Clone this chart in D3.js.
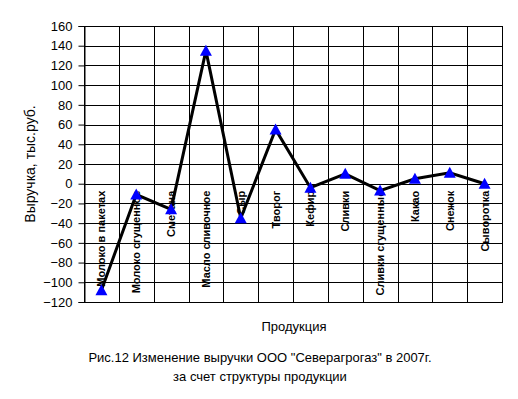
<!DOCTYPE html>
<html>
<head>
<meta charset="utf-8">
<script src="https://cdn.jsdelivr.net/npm/d3@7"></script>
<style>
  body { margin: 0; background: #fff; }
  text { font-family: "Liberation Sans", Arial, sans-serif; fill: #000; }
</style>
</head>
<body>
<svg id="chart" width="518" height="399"></svg>
<script>
// products and revenue change, thousand rubles
const categories = ["Молоко в пакетах", "Молоко сгущенное", "Сметана", "Масло сливочное", "Сыр", "Творог",
  "Кефир", "Сливки", "Сливки сгущенные", "Какао", "Снежок", "Сыворотка"];
const values = [-108, -11, -26, 135, -35, 55, -4, 10, -7, 5, 11, 0];
const yTicks = [-120, -100, -80, -60, -40, -20, 0, 20, 40, 60, 80, 100, 120, 140, 160];

const svg = d3.select("#chart");
const plotLeft = 84, plotRight = 502, plotTop = 26, plotBottom = 302;

const x = d3.scaleBand().domain(categories).range([plotLeft, plotRight]);
const y = d3.scaleLinear().domain([-120, 160]).range([plotBottom, plotTop]);

// horizontal grid
svg.append("g").selectAll("line")
  .data(yTicks)
  .join("line")
  .attr("x1", plotLeft).attr("x2", plotRight)
  .attr("y1", d => Math.round(y(d)) + 0.5).attr("y2", d => Math.round(y(d)) + 0.5)
  .attr("stroke", "#000").attr("stroke-width", 1);

// vertical grid at category borders
svg.append("g").selectAll("line")
  .data(categories)
  .join("line")
  .attr("x1", d => Math.round(x(d) + x.bandwidth()) + 0.5)
  .attr("x2", d => Math.round(x(d) + x.bandwidth()) + 0.5)
  .attr("y1", plotTop).attr("y2", plotBottom)
  .attr("stroke", "#000").attr("stroke-width", 1);

// y axis
const yAxis = svg.append("g")
  .attr("transform", "translate(" + (plotLeft + 0.5) + ",0)")
  .call(d3.axisLeft(y).tickValues(yTicks).tickSize(6).tickPadding(6));
yAxis.select(".domain").attr("stroke", "#000");
yAxis.selectAll("line").attr("stroke", "#000");
yAxis.selectAll("text")
  .style("font-family", "Liberation Sans, Arial, sans-serif")
  .style("font-size", "13px")
  .attr("fill", "#000");

// plot border
svg.append("rect")
  .attr("x", plotLeft + 0.5).attr("y", plotTop + 0.5)
  .attr("width", plotRight - plotLeft).attr("height", plotBottom - plotTop)
  .attr("fill", "none").attr("stroke", "#000").attr("stroke-width", 1);

// category labels, rotated, hanging below zero line
svg.append("g").selectAll("text")
  .data(categories)
  .join("text")
  .attr("transform", d => "translate(" + (x(d) + x.bandwidth() / 2 + 4) + "," + (y(0) + 7) + ")rotate(-90)")
  .attr("text-anchor", "end")
  .style("font-size", "11px")
  .style("font-weight", "bold")
  .text(d => d);

// line
const line = d3.line()
  .x((d, i) => x(categories[i]) + x.bandwidth() / 2)
  .y(d => y(d));

svg.append("path")
  .datum(values)
  .attr("fill", "none")
  .attr("stroke", "#000")
  .attr("stroke-width", 3)
  .attr("stroke-linejoin", "miter")
  .attr("d", line);

// markers
svg.append("g").selectAll("path")
  .data(values)
  .join("path")
  .attr("transform", (d, i) => "translate(" + (x(categories[i]) + x.bandwidth() / 2) + "," + y(d) + ")")
  .attr("d", "M0,-6L6,5L-6,5Z")
  .attr("fill", "#0000ff");

// axis titles
svg.append("text")
  .attr("transform", "translate(35," + ((plotTop + plotBottom) / 2) + ")rotate(-90)")
  .attr("text-anchor", "middle")
  .style("font-size", "14px")
  .text("Выручка, тыс.руб.");

svg.append("text")
  .attr("x", 294).attr("y", 331)
  .attr("text-anchor", "middle")
  .style("font-size", "13px")
  .text("Продукция");

// caption
svg.append("text")
  .attr("x", 260).attr("y", 362)
  .attr("text-anchor", "middle")
  .style("font-size", "13px")
  .text("Рис.12 Изменение выручки ООО \"Северагрогаз\" в 2007г.");

svg.append("text")
  .attr("x", 260).attr("y", 381)
  .attr("text-anchor", "middle")
  .style("font-size", "13px")
  .text("за счет структуры продукции");
</script>
</body>
</html>
